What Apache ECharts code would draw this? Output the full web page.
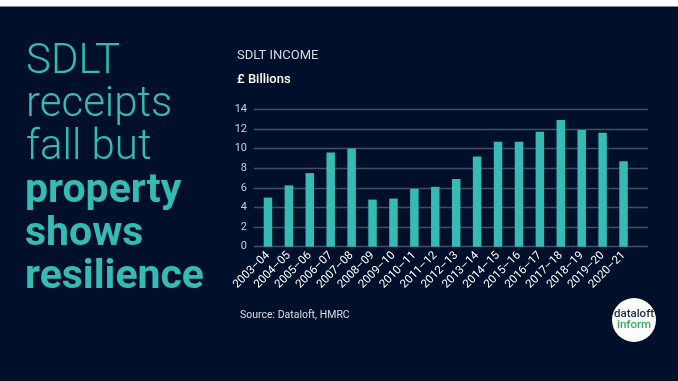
<!DOCTYPE html>
<html>
<head>
<meta charset="utf-8">
<script src="https://cdn.jsdelivr.net/npm/echarts@6/dist/echarts.min.js"></script>
<style>
html,body{margin:0;padding:0;background:#ffffff;}
#chart{width:678px;height:381px;}
</style>
</head>
<body>
<div id="chart"></div>
<script>
const categories = ['2003–04','2004–05','2005–06','2006–07','2007–08','2008–09','2009–10','2010–11','2011–12','2012–13','2013–14','2014–15','2015–16','2016–17','2017–18','2018–19','2019–20','2020–21'];
const sdltIncome = [5.0, 6.25, 7.5, 9.6, 10.0, 4.8, 4.9, 5.9, 6.1, 6.9, 9.2, 10.7, 10.7, 11.7, 12.9, 11.9, 11.6, 8.7];
const yTicks = [0, 2, 4, 6, 8, 10, 12, 14];

const chart = echarts.init(document.getElementById('chart'), null, {renderer: 'canvas'});
const BG = '#00102a';
const TEAL = '#35bbb3';
const FONT = 'Roboto';

chart.setOption({
  backgroundColor: 'transparent',
  animation: false,
  graphic: [
    {type: 'rect', shape: {x: 0, y: 6.5, width: 678, height: 381}, style: {fill: BG}, z: -10},
    {type: 'text', left: 26, top: 41, style: {text: 'SDLT\nreceipts\nfall but', fill: TEAL, font: '300 42px Roboto', lineHeight: 43}},
    {type: 'text', left: 25, top: 170, style: {text: 'property\nshows\nresilience', fill: TEAL, font: 'bold 41px Roboto', lineHeight: 43}},
    {type: 'text', left: 237, top: 49, style: {text: 'SDLT INCOME', fill: '#d3d7de', font: '13px Roboto'}},
    {type: 'text', left: 237, top: 73, style: {text: '£ Billions', fill: '#ffffff', font: '500 13px Roboto'}},
    {type: 'text', left: 240, top: 310, style: {text: 'Source: Dataloft, HMRC', fill: '#d8dce3', font: '10.5px Roboto'}},
    {type: 'circle', shape: {cx: 634, cy: 320, r: 22}, style: {fill: '#ffffff'}},
    {type: 'text', x: 634, y: 314, style: {text: 'dataloft', fill: '#1b2a4a', font: '500 11.5px Roboto', align: 'center', verticalAlign: 'middle'}},
    {type: 'text', x: 634, y: 325, style: {text: 'inform', fill: '#2fb35a', font: '500 11.5px Roboto', align: 'center', verticalAlign: 'middle'}}
  ],
  grid: [
    {left: 254, right: 30, top: 109.3, bottom: 134.3, containLabel: false},
    {left: 257.5, width: 376.5, top: 109.3, bottom: 134.3, containLabel: false}
  ],
  xAxis: [
    {gridIndex: 0, type: 'category', data: categories, show: false},
    {gridIndex: 1, type: 'category', data: categories,
      axisLine: {show: false}, axisTick: {show: false},
      axisLabel: {rotate: 45, color: '#ffffff', fontFamily: FONT, fontSize: 11.5, interval: 0, margin: 7}}
  ],
  yAxis: [
    {gridIndex: 0, type: 'value', min: 0, max: 14, interval: 2,
      axisLine: {show: false}, axisTick: {show: false},
      axisLabel: {color: '#c9cdd5', fontFamily: FONT, fontSize: 11, margin: 7},
      splitLine: {show: true, lineStyle: {color: '#434e61', width: 1.3}}},
    {gridIndex: 1, type: 'value', min: 0, max: 14, interval: 2, show: false, splitLine: {show: false}}
  ],
  series: [
    {type: 'bar', xAxisIndex: 1, yAxisIndex: 1, data: sdltIncome, barWidth: 8.5,
      itemStyle: {color: TEAL}}
  ]
});
</script>
</body>
</html>
